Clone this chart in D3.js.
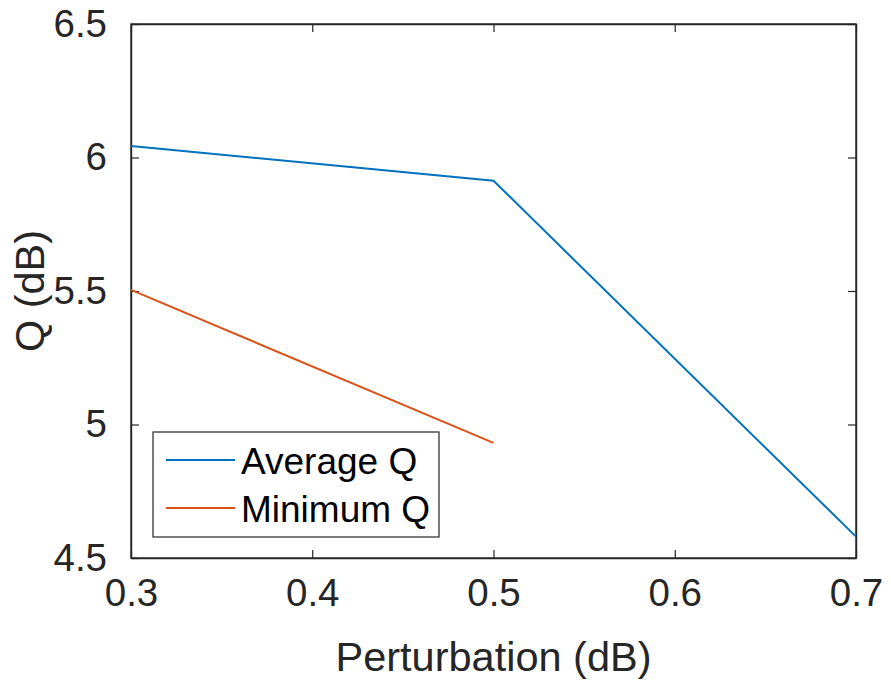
<!DOCTYPE html>
<html>
<head>
<meta charset="utf-8">
<script src="https://cdn.jsdelivr.net/npm/d3@7"></script>
<style>
  html, body { margin: 0; padding: 0; background: #fff; }
  svg { display: block; font-family: "Liberation Sans", Arial, Helvetica, sans-serif; }
</style>
</head>
<body>
<svg id="chart" width="891" height="684"></svg>
<script>
// Perturbation levels (dB) and the resulting Q factors
const perturbation = [0.3, 0.5, 0.7];
const averageQ = [6.043, 5.913, 4.58];
const minimumQ = [5.504, 4.931];
const seriesNames = ["Average Q", "Minimum Q"];
const seriesColors = ["#0072BD", "#D95319"];
const xTicks = [0.3, 0.4, 0.5, 0.6, 0.7];
const yTicks = [4.5, 5, 5.5, 6, 6.5];

const svg = d3.select("#chart");
const plotLeft = 131, plotRight = 856, plotTop = 24, plotBottom = 558;
const axisColor = "#262626";

const x = d3.scaleLinear().domain([0.3, 0.7]).range([plotLeft, plotRight]);
const y = d3.scaleLinear().domain([4.5, 6.5]).range([plotBottom, plotTop]);

// Axes with inward ticks
const xAxis = svg.append("g").attr("transform", `translate(0,${plotBottom})`)
  .call(d3.axisBottom(x).tickValues(xTicks).tickSizeInner(-8).tickSizeOuter(0).tickPadding(21)
    .tickFormat(d3.format("")));
const yAxis = svg.append("g").attr("transform", `translate(${plotLeft},0)`)
  .call(d3.axisLeft(y).tickValues(yTicks).tickSizeInner(-8).tickSizeOuter(0).tickPadding(24)
    .tickFormat(d3.format("")));

// Mirrored ticks on top and right edges
svg.append("g").attr("transform", `translate(0,${plotTop})`)
  .call(d3.axisTop(x).tickValues(xTicks).tickSizeInner(-8).tickSizeOuter(0).tickFormat(""));
svg.append("g").attr("transform", `translate(${plotRight},0)`)
  .call(d3.axisRight(y).tickValues(yTicks).tickSizeInner(-8).tickSizeOuter(0).tickFormat(""));

svg.selectAll(".domain").attr("stroke", axisColor).attr("stroke-width", 1.4);
svg.selectAll(".tick line").attr("stroke", axisColor).attr("stroke-width", 1.2);
svg.selectAll(".tick text").attr("fill", axisColor).attr("font-size", 38.5)
  .attr("font-family", "Liberation Sans, Arial, sans-serif");
xAxis.selectAll(".tick text").attr("dy", "0.71em");

// Frame around the plot area
svg.append("rect").attr("x", plotLeft).attr("y", plotTop)
  .attr("width", plotRight - plotLeft).attr("height", plotBottom - plotTop)
  .attr("fill", "none").attr("stroke", axisColor).attr("stroke-width", 1.4);

// Data lines
const line = d3.line().x(d => x(d[0])).y(d => y(d[1]));
const series = [
  perturbation.map((p, i) => [p, averageQ[i]]),
  minimumQ.map((v, i) => [perturbation[i], v])
];
series.forEach((s, i) => {
  svg.append("path").datum(s).attr("d", line)
    .attr("fill", "none").attr("stroke", seriesColors[i]).attr("stroke-width", 2);
});

// Axis labels
svg.append("text").attr("x", (plotLeft + plotRight) / 2).attr("y", 671)
  .attr("text-anchor", "middle").attr("font-size", 41.5).attr("fill", axisColor)
  .text("Perturbation (dB)");
svg.append("text").attr("transform", `translate(44,${(plotTop + plotBottom) / 2}) rotate(-90)`)
  .attr("text-anchor", "middle").attr("font-size", 41.5).attr("fill", axisColor)
  .text("Q (dB)");

// Legend
const legend = svg.append("g");
legend.append("rect").attr("x", 153).attr("y", 432).attr("width", 286).attr("height", 105)
  .attr("fill", "#fff").attr("stroke", axisColor).attr("stroke-width", 1.2);
const legendRows = [460, 508];
seriesNames.forEach((name, i) => {
  legend.append("line").attr("x1", 166).attr("x2", 235)
    .attr("y1", legendRows[i]).attr("y2", legendRows[i])
    .attr("stroke", seriesColors[i]).attr("stroke-width", 2);
  legend.append("text").attr("x", 241).attr("y", legendRows[i] + 14)
    .attr("font-size", 37).attr("fill", "#000").text(name);
});
</script>
</body>
</html>
